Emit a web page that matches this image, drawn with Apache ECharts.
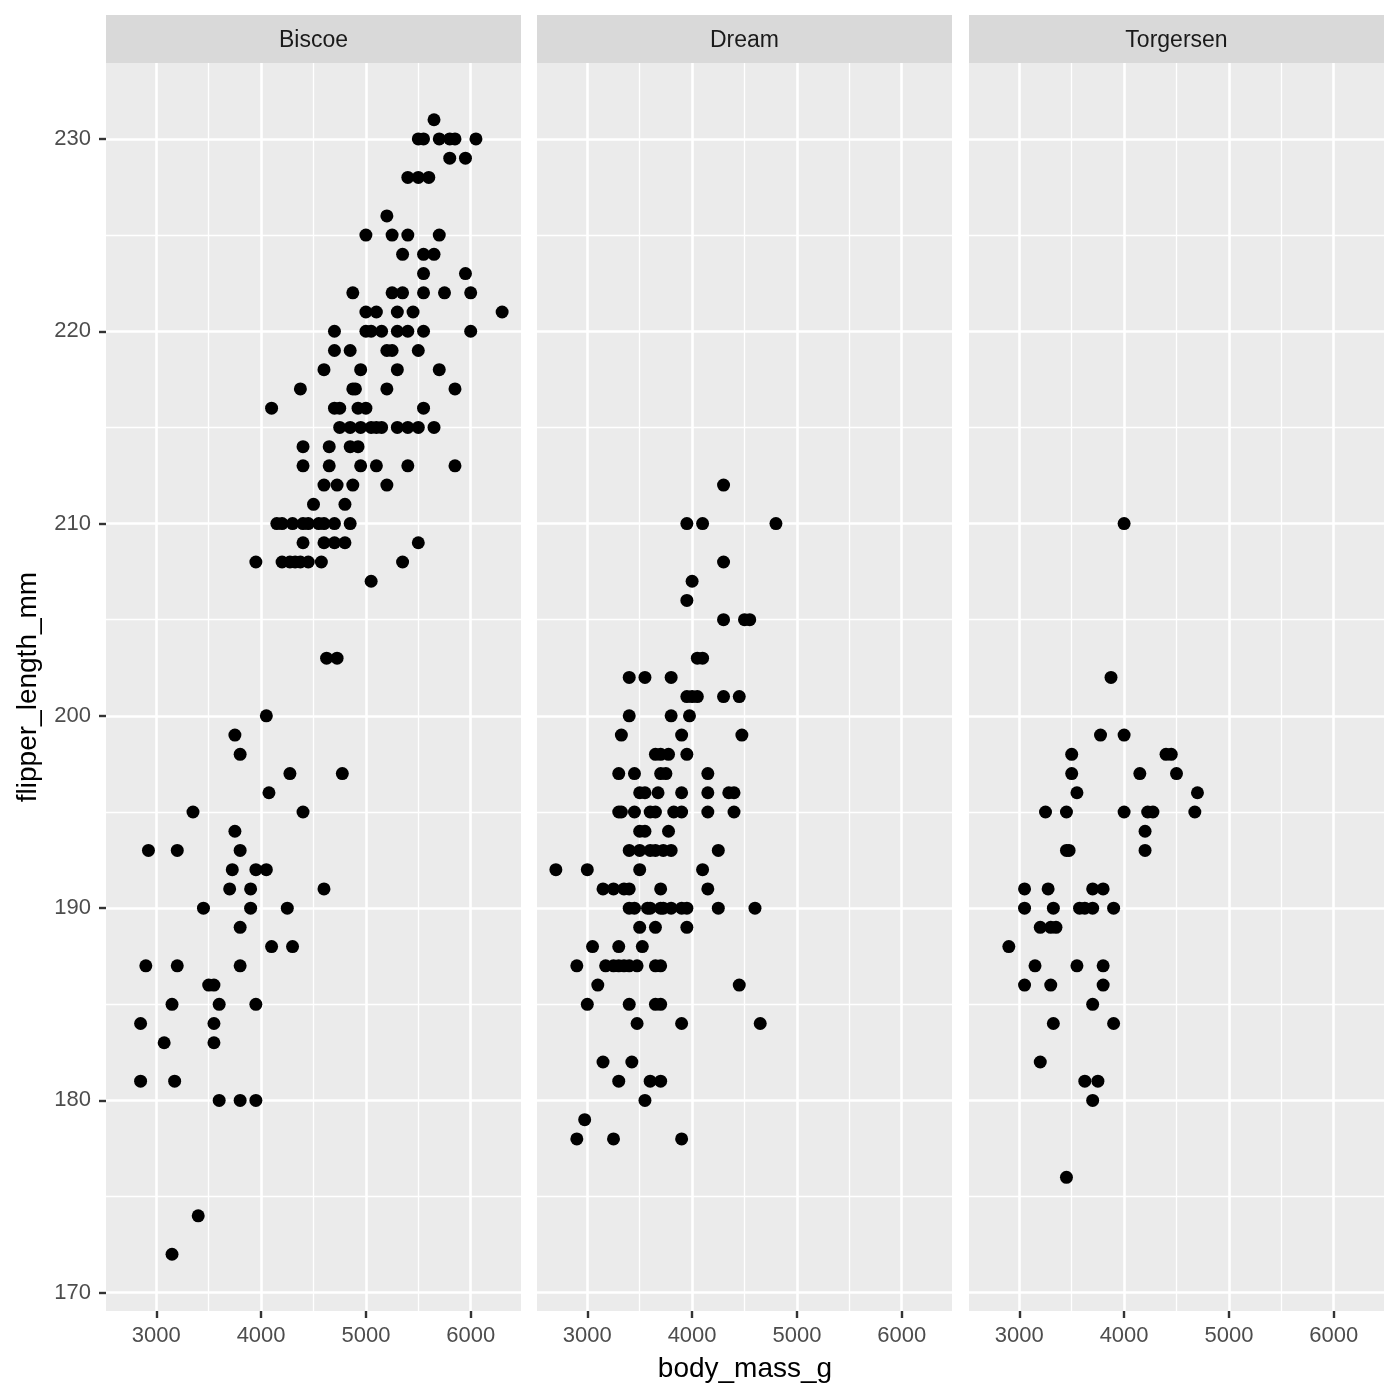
<!DOCTYPE html>
<html>
<head>
<meta charset="utf-8">
<script src="https://cdn.jsdelivr.net/npm/echarts@6/dist/echarts.min.js"></script>
<style>
html,body{margin:0;padding:0;background:#fff;}
#c{width:1400px;height:1400px;}
</style>
</head>
<body>
<div id="c"></div>
<script>
const islands = ['Biscoe', 'Dream', 'Torgersen'];

// [body_mass_g, flipper_length_mm]
const biscoePoints = [
  [5650,231],
  [5500,230],[5550,230],[5700,230],[5800,230],[5850,230],[6050,230],
  [5800,229],[5950,229],
  [5400,228],[5500,228],[5600,228],
  [5200,226],
  [5000,225],[5250,225],[5400,225],[5700,225],
  [5350,224],[5550,224],[5650,224],
  [5550,223],[5950,223],
  [4875,222],[5250,222],[5350,222],[5550,222],[5750,222],[6000,222],
  [5000,221],[5100,221],[5300,221],[5450,221],[6300,221],
  [4700,220],[5000,220],[5050,220],[5150,220],[5300,220],[5400,220],[5550,220],[6000,220],
  [4700,219],[4850,219],[5200,219],[5250,219],[5500,219],
  [4600,218],[4950,218],[5300,218],[5700,218],
  [4375,217],[4875,217],[4900,217],[5200,217],[5850,217],
  [4100,216],[4700,216],[4750,216],[4925,216],[5000,216],[5550,216],
  [4750,215],[4850,215],[4950,215],[5050,215],[5100,215],[5150,215],[5300,215],[5400,215],[5500,215],[5650,215],
  [4400,214],[4650,214],[4850,214],[4925,214],
  [4400,213],[4650,213],[4950,213],[5100,213],[5400,213],[5850,213],
  [4600,212],[4725,212],[4875,212],[5200,212],
  [4500,211],[4800,211],
  [4150,210],[4200,210],[4300,210],[4400,210],[4450,210],[4550,210],[4600,210],[4700,210],[4850,210],
  [4400,209],[4600,209],[4700,209],[4800,209],[5500,209],
  [3950,208],[4200,208],[4275,208],[4325,208],[4375,208],[4450,208],[4575,208],[5350,208],
  [5050,207],
  [4625,203],[4725,203],
  [4050,200],
  [3750,199],
  [3800,198],
  [4275,197],[4775,197],
  [4075,196],
  [3350,195],[4400,195],
  [3750,194],
  [2925,193],[3200,193],[3800,193],
  [3725,192],[3950,192],[4050,192],
  [3700,191],[3900,191],[4600,191],
  [3450,190],[3900,190],[4250,190],
  [3800,189],
  [4100,188],[4300,188],
  [2900,187],[3200,187],[3800,187],
  [3500,186],[3550,186],
  [3150,185],[3600,185],[3950,185],
  [2850,184],[3550,184],
  [3075,183],[3550,183],
  [2850,181],[3175,181],
  [3600,180],[3800,180],[3950,180],
  [3400,174],
  [3150,172]
];

const dreamPoints = [
  [4300,212],
  [3950,210],[4100,210],[4800,210],
  [4300,208],
  [4000,207],
  [3950,206],
  [4300,205],[4500,205],[4550,205],
  [4050,203],[4100,203],
  [3400,202],[3550,202],[3800,202],
  [3950,201],[4000,201],[4050,201],[4300,201],[4450,201],
  [3400,200],[3800,200],[3975,200],
  [3325,199],[3900,199],[4475,199],
  [3650,198],[3700,198],[3775,198],[3950,198],
  [3300,197],[3450,197],[3700,197],[3750,197],[4150,197],
  [3500,196],[3550,196],[3675,196],[3900,196],[4150,196],[4350,196],[4400,196],
  [3300,195],[3325,195],[3450,195],[3600,195],[3650,195],[3825,195],[3900,195],[4150,195],[4400,195],
  [3500,194],[3550,194],[3775,194],
  [3400,193],[3500,193],[3600,193],[3650,193],[3725,193],[3800,193],[4250,193],
  [2700,192],[3000,192],[3500,192],[4100,192],
  [3150,191],[3250,191],[3350,191],[3400,191],[3700,191],[4150,191],
  [3400,190],[3450,190],[3575,190],[3600,190],[3700,190],[3725,190],[3800,190],[3900,190],[3950,190],[4250,190],[4600,190],
  [3500,189],[3650,189],[3950,189],
  [3050,188],[3300,188],[3525,188],
  [2900,187],[3175,187],[3250,187],[3300,187],[3350,187],[3400,187],[3475,187],[3650,187],[3700,187],
  [3100,186],[4450,186],
  [3000,185],[3400,185],[3650,185],[3700,185],
  [3475,184],[3900,184],[4650,184],
  [3150,182],[3425,182],
  [3300,181],[3600,181],[3700,181],
  [3550,180],
  [2975,179],
  [2900,178],[3250,178],[3900,178]
];

const torgersenPoints = [
  [4000,210],
  [3875,202],
  [3775,199],[4000,199],
  [3500,198],[4400,198],[4450,198],
  [3500,197],[4150,197],[4500,197],
  [3550,196],[4700,196],
  [3250,195],[3450,195],[4000,195],[4225,195],[4275,195],[4675,195],
  [4200,194],
  [3450,193],[3475,193],[4200,193],
  [3050,191],[3275,191],[3700,191],[3800,191],
  [3050,190],[3325,190],[3575,190],[3625,190],[3700,190],[3900,190],
  [3200,189],[3300,189],[3350,189],
  [2900,188],
  [3150,187],[3550,187],[3800,187],
  [3050,186],[3300,186],[3800,186],
  [3700,185],
  [3325,184],[3900,184],
  [3200,182],
  [3625,181],[3750,181],
  [3700,180],
  [3450,176]
];

const panelPoints = [biscoePoints, dreamPoints, torgersenPoints];

const xMajorTicks = [3000, 4000, 5000, 6000];
const xMinorTicks = [3500, 4500, 5500];
const yMajorTicks = [170, 180, 190, 200, 210, 220, 230];
const yMinorTicks = [175, 185, 195, 205, 215, 225];

const xTitle = 'body_mass_g';
const yTitle = 'flipper_length_mm';

// ggplot-style 5% expansion of the data range
function expand(vals){
  const lo = Math.min(...vals), hi = Math.max(...vals);
  const pad = (hi - lo) * 0.05;
  return [lo - pad, hi + pad];
}
const allPts = [].concat(...panelPoints);
const xRange = expand(allPts.map(p => p[0]));
const yRange = expand(allPts.map(p => p[1]));

const FONT = '"Liberation Sans", Arial, sans-serif';
const panelLeft = [106, 537, 969];
const panelW = 415;
const panelTop = 63;
const panelH = 1248;
const plain = v => String(Math.round(v));

const grids = [], xAxes = [], yAxes = [], series = [], graphics = [];
islands.forEach((name, i) => {
  grids.push({
    left: panelLeft[i], top: panelTop, width: panelW, height: panelH,
    show: true, backgroundColor: '#EBEBEB', borderWidth: 0, containLabel: false
  });
  // major x
  xAxes.push({
    type: 'value', gridIndex: i, min: xRange[0], max: xRange[1],
    axisLine: {show: false},
    axisTick: {show: true, length: 7, customValues: xMajorTicks, lineStyle: {color: '#333333', width: 2.4}},
    axisLabel: {show: true, customValues: xMajorTicks, formatter: plain, margin: 14, color: '#4D4D4D', fontSize: 22, fontFamily: FONT},
    splitLine: {show: true, lineStyle: {color: '#FFFFFF', width: 2.6}}
  });
  // minor x
  xAxes.push({
    type: 'value', gridIndex: i, min: xRange[0], max: xRange[1],
    axisLine: {show: false},
    axisTick: {show: false, customValues: xMinorTicks},
    axisLabel: {show: false, customValues: xMinorTicks},
    splitLine: {show: true, lineStyle: {color: '#FFFFFF', width: 1.3}}
  });
  yAxes.push({
    type: 'value', gridIndex: i, min: yRange[0], max: yRange[1],
    axisLine: {show: false},
    axisTick: {show: i === 0, length: 7, customValues: yMajorTicks, lineStyle: {color: '#333333', width: 2.4}},
    axisLabel: {show: i === 0, customValues: yMajorTicks, formatter: plain, margin: 15, color: '#4D4D4D', fontSize: 22, fontFamily: FONT},
    splitLine: {show: true, lineStyle: {color: '#FFFFFF', width: 2.6}}
  });
  yAxes.push({
    type: 'value', gridIndex: i, min: yRange[0], max: yRange[1],
    axisLine: {show: false},
    axisTick: {show: false, customValues: yMinorTicks},
    axisLabel: {show: false, customValues: yMinorTicks},
    splitLine: {show: true, lineStyle: {color: '#FFFFFF', width: 1.3}}
  });
  series.push({
    type: 'scatter', name: name, xAxisIndex: 2 * i, yAxisIndex: 2 * i,
    data: panelPoints[i], symbol: 'circle', symbolSize: 13,
    itemStyle: {color: '#000000', opacity: 1}, silent: true, z: 5
  });
  // facet strip
  graphics.push({
    type: 'rect', left: panelLeft[i], top: 15,
    shape: {width: panelW, height: 48},
    style: {fill: '#D9D9D9'}, silent: true
  });
  graphics.push({
    type: 'text', x: panelLeft[i] + panelW / 2, y: 41,
    style: {text: name, fill: '#1A1A1A', font: '23px ' + FONT, textAlign: 'center', textVerticalAlign: 'middle'},
    silent: true
  });
});

graphics.push({
  type: 'text', x: (panelLeft[0] + panelLeft[2] + panelW) / 2, y: 1369,
  style: {text: xTitle, fill: '#000000', font: '28px ' + FONT, textAlign: 'center', textVerticalAlign: 'middle'},
  silent: true
});
graphics.push({
  type: 'text', x: 28, y: panelTop + panelH / 2, rotation: Math.PI / 2,
  style: {text: yTitle, fill: '#000000', font: '28px ' + FONT, textAlign: 'center', textVerticalAlign: 'middle'},
  silent: true
});

const chart = echarts.init(document.getElementById('c'), null, {renderer: 'canvas'});
chart.setOption({
  backgroundColor: '#FFFFFF',
  animation: false,
  grid: grids,
  xAxis: xAxes,
  yAxis: yAxes,
  series: series,
  graphic: graphics
});
</script>
</body>
</html>
